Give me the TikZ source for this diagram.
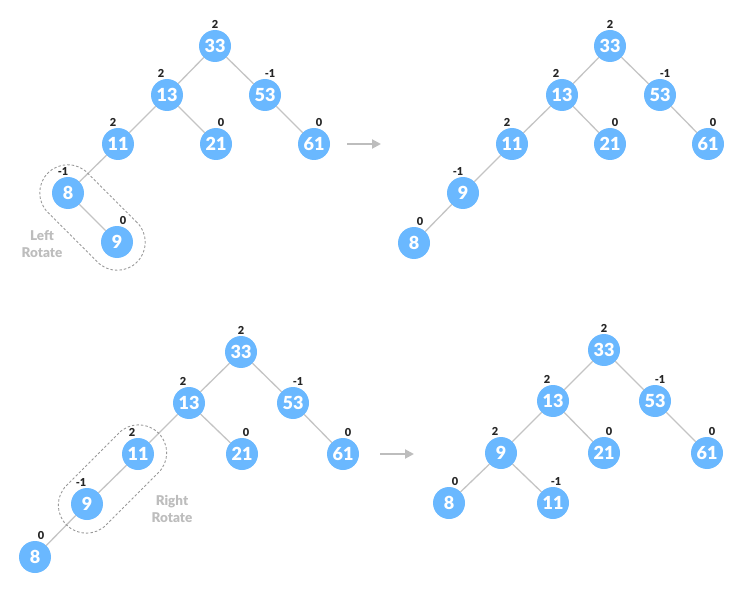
\documentclass[tikz,border=0pt]{standalone}
\usepackage{fontspec}
\setmainfont{Lato}[BoldFont={Lato Black}]
\usetikzlibrary{arrows.meta, calc, positioning}
\definecolor{keyblue}{HTML}{6AB8FF}
\definecolor{edgegray}{HTML}{C4C4C4}
\definecolor{notegray}{HTML}{BDBDBD}

\begin{document}
\begin{tikzpicture}[x=1pt, y=-1pt,% pixel units, y downwards
         > = {Triangle[length=9pt, width=9pt]}, % defined in "arrows.meta"
key/.style = {circle, fill=keyblue, text=white,
              minimum size=32pt, inner sep=0pt, outer sep=0pt,
              font=\bfseries\fontsize{18}{18}\selectfont},
 bf/.style = {font=\bfseries\fontsize{11}{11}\selectfont,
              text=black!85, inner sep=1pt},
link/.style = {draw=edgegray, line width=1.3pt},
step arrow/.style = {draw=notegray, line width=2pt, ->},
pill/.style = {draw=black!40, dash pattern=on 2.5pt off 2pt, line width=0.9pt,
               rounded corners=28pt, minimum height=56pt,
               inner sep=0pt},
note/.style = {text=notegray, align=center,
               font=\bfseries\fontsize{13.5}{17}\selectfont}
                    ]
	\useasboundingbox (0,0) rectangle (742,591);

	% before left rotate
	\node[key, label={[bf]above:2}]           (a33) at (215,46)  {33};
	\node[key, label={[bf,xshift=-6]above:2}]  (a13) at (167,95)  {13};
	\node[key, label={[bf,xshift=5]above:-1}]  (a53) at (265,95)  {53};
	\node[key, label={[bf,xshift=-5]above:2}]  (a11) at (118,144) {11};
	\node[key, label={[bf,xshift=5]above:0}]   (a21) at (216,144) {21};
	\node[key, label={[bf,xshift=5]above:0}]   (a61) at (314,144) {61};
	\node[key, label={[bf,xshift=-5]above:-1}] (a8)  at (68,193)  {8};
	\node[key, label={[bf,xshift=6]above:0}]   (a9)  at (117,242) {9};
	\draw[link] (a33) -- (a13)  (a33) -- (a53)  (a13) -- (a11)
	            (a13) -- (a21)  (a53) -- (a61)  (a11) -- (a8)  (a8) -- (a9);
	\node[pill, minimum width=126pt, rotate=-45] (lrot) at ($(a8)!0.5!(a9)$) {};
	\node[note] (lnote) at (42,244) {Left\\Rotate};

	\coordinate (ta) at (347,144);
	\coordinate (tb) at (381,144);
	\draw[step arrow] (ta) -- (tb);

	% after left rotate
	\node[key, label={[bf]above:2}]           (b33) at (610,46)  {33};
	\node[key, label={[bf,xshift=-6]above:2}]  (b13) at (562,95)  {13};
	\node[key, label={[bf,xshift=5]above:-1}]  (b53) at (660,95)  {53};
	\node[key, label={[bf,xshift=-5]above:2}]  (b11) at (512,144) {11};
	\node[key, label={[bf,xshift=5]above:0}]   (b21) at (610,144) {21};
	\node[key, label={[bf,xshift=5]above:0}]   (b61) at (708,144) {61};
	\node[key, label={[bf,xshift=-5]above:-1}] (b9)  at (463,193) {9};
	\node[key, label={[bf,xshift=6]above:0}]   (b8)  at (414,243) {8};
	\draw[link] (b33) -- (b13)  (b33) -- (b53)  (b13) -- (b11)
	            (b13) -- (b21)  (b53) -- (b61)  (b11) -- (b9)  (b9) -- (b8);

	% before right rotate
	\node[key, label={[bf]above:2}]           (c33) at (241,352) {33};
	\node[key, label={[bf,xshift=-6]above:2}]  (c13) at (189,403) {13};
	\node[key, label={[bf,xshift=5]above:-1}]  (c53) at (293,403) {53};
	\node[key, label={[bf,xshift=-6]above:2}]  (c11) at (138,454) {11};
	\node[key, label={[bf,xshift=4]above:0}]   (c21) at (242,454) {21};
	\node[key, label={[bf,xshift=5]above:0}]   (c61) at (343,454) {61};
	\node[key, label={[bf,xshift=-6]above:-1}] (c9)  at (87,504)  {9};
	\node[key, label={[bf,xshift=6]above:0}]   (c8)  at (35,557)  {8};
	\draw[link] (c33) -- (c13)  (c33) -- (c53)  (c13) -- (c11)
	            (c13) -- (c21)  (c53) -- (c61)  (c11) -- (c9)  (c9) -- (c8);
	\node[pill, minimum width=130pt, rotate=45] (rrot) at ($(c11)!0.5!(c9)$) {};
	\node[note] (rnote) at (172,509) {Right\\Rotate};

	\coordinate (ua) at (380,454);
	\coordinate (ub) at (414,454);
	\draw[step arrow] (ua) -- (ub);

	% after right rotate
	\node[key, label={[bf]above:2}]           (d33) at (604,350) {33};
	\node[key, label={[bf,xshift=-6]above:2}]  (d13) at (553,401) {13};
	\node[key, label={[bf,xshift=5]above:-1}]  (d53) at (655,401) {53};
	\node[key, label={[bf,xshift=-6]above:2}]  (d9)  at (501,453) {9};
	\node[key, label={[bf,xshift=5]above:0}]   (d21) at (604,453) {21};
	\node[key, label={[bf,xshift=5]above:0}]   (d61) at (707,453) {61};
	\node[key, label={[bf,xshift=6]above:0}]   (d8)  at (449,503) {8};
	\node[key, label={[bf,xshift=3]above:-1}]  (d11) at (553,503) {11};
	\draw[link] (d33) -- (d13)  (d33) -- (d53)  (d13) -- (d9)
	            (d13) -- (d21)  (d53) -- (d61)  (d9) -- (d8)  (d9) -- (d11);
\end{tikzpicture}
\end{document}
